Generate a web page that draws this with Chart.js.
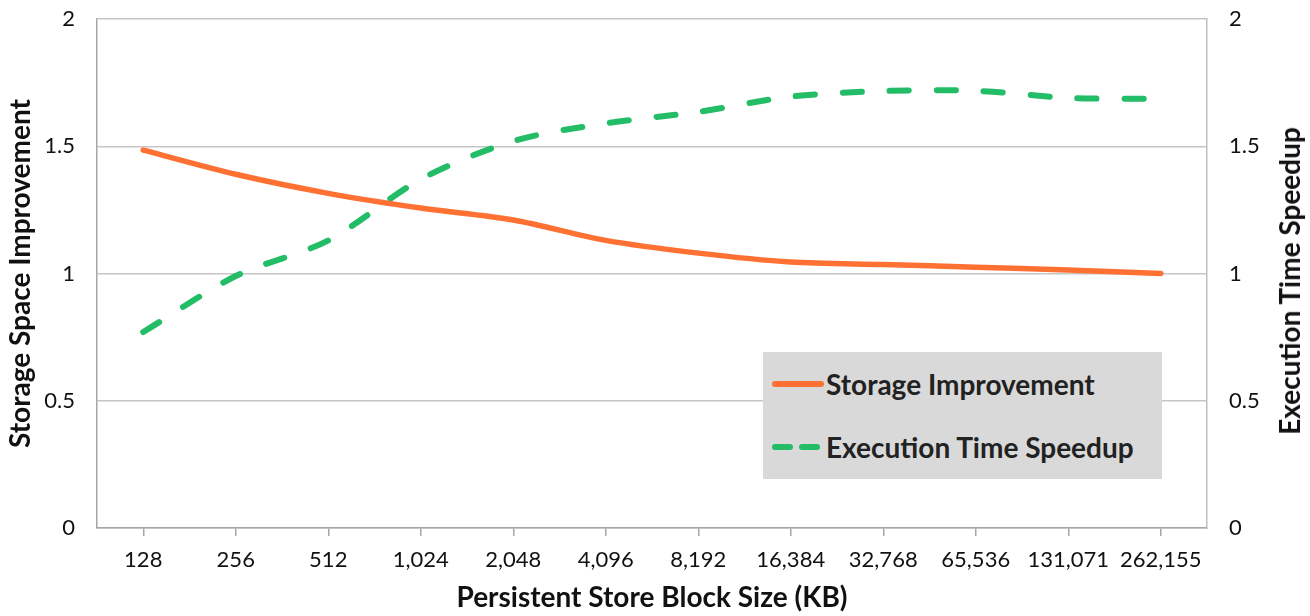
<!DOCTYPE html>
<html>
<head>
<meta charset="utf-8">
<script src="https://cdn.jsdelivr.net/npm/chart.js@4/dist/chart.umd.min.js"></script>
<style>
  html, body { margin: 0; padding: 0; background: #fff; }
  #wrap { position: relative; width: 1310px; height: 616px; font-family: Lato, "Open Sans", sans-serif; }
  #wrap canvas { position: absolute; left: 0; top: 0; }
  .legend { position: absolute; left: 763px; top: 352px; width: 399px; height: 127px; background: #d9d9d9; }
  .legend .row { position: absolute; left: 9px; display: flex; align-items: center; height: 34px; }
  .legend .row span { font-weight: 700; font-size: 28px; color: #222; margin-left: 2px; }
  .rtitle { position: absolute; left: 1289px; top: 281px; transform: translate(-50%, -50%) rotate(-90deg);
            white-space: nowrap; font-weight: 700; font-size: 28px; color: #111; }
</style>
</head>
<body>
<div id="wrap">
  <canvas id="c" width="1310" height="616"></canvas>
  <div class="legend">
    <div class="row" style="top:15px">
      <svg width="52" height="10"><line x1="3" y1="5" x2="49" y2="5" stroke="#fe7133" stroke-width="6" stroke-linecap="round"/></svg>
      <span>Storage Improvement</span>
    </div>
    <div class="row" style="top:78px">
      <svg width="52" height="10"><line x1="3" y1="5" x2="49" y2="5" stroke="#23bc67" stroke-width="6" stroke-linecap="round" stroke-dasharray="15 12"/></svg>
      <span>Execution Time Speedup</span>
    </div>
  </div>
  <div class="rtitle">Execution Time Speedup</div>
</div>
<script>
// block sizes on the x axis
const blockSizes = ["128", "256", "512", "1,024", "2,048", "4,096", "8,192",
  "16,384", "32,768", "65,536", "131,071", "262,155"];
const storageImprovement = [1.485, 1.39, 1.315, 1.257, 1.21, 1.13, 1.08,
  1.045, 1.035, 1.025, 1.014, 1.0];
const execSpeedup = [0.77, 0.99, 1.13, 1.37, 1.52, 1.59, 1.635,
  1.695, 1.717, 1.718, 1.69, 1.686];
const yTicks = [0, 0.5, 1, 1.5, 2];

const ORANGE = "#fe7133";
const GREEN = "#23bc67";
const AXIS = "#a6a6a6";
const FONT = "Lato, 'Open Sans', sans-serif";

const fmtY = (v) => String(v);

new Chart(document.getElementById("c"), {
  type: "line",
  data: {
    labels: blockSizes,
    datasets: [
      {
        label: "Storage Improvement",
        data: storageImprovement,
        yAxisID: "y",
        borderColor: ORANGE,
        borderWidth: 5.5,
        borderCapStyle: "round",
        pointRadius: 0,
        tension: 0.3,
        fill: false,
      },
      {
        label: "Execution Time Speedup",
        data: execSpeedup,
        yAxisID: "y1",
        borderColor: GREEN,
        borderWidth: 6,
        borderCapStyle: "round",
        borderDash: [19, 28],
        pointRadius: 0,
        tension: 0.3,
        fill: false,
      },
    ],
  },
  options: {
    responsive: false,
    animation: false,
    layout: { padding: { top: 19, left: 0, right: 0, bottom: 0 } },
    plugins: { legend: { display: false }, tooltip: { enabled: false } },
    scales: {
      x: {
        offset: true,
        grid: { offset: false, drawOnChartArea: false, drawTicks: true, tickLength: 8, color: AXIS, lineWidth: 1.5 },
        border: { display: true, color: AXIS, width: 1.5 },
        ticks: { color: "#111", font: { family: FONT, size: 22 }, padding: 11, maxRotation: 0, autoSkip: false },
        title: { display: true, text: "Persistent Store Block Size (KB)", color: "#111",
                 font: { family: FONT, size: 28, weight: "bold" }, padding: { top: 2, bottom: 1 } },
        afterFit: (s) => { s.height = 88; s.paddingLeft = 0; s.paddingRight = 0; },
      },
      y: {
        position: "left",
        min: 0, max: 2,
        afterBuildTicks: (s) => { s.ticks = yTicks.map((v) => ({ value: v })); },
        grid: { color: "#c6c6c6", lineWidth: 1.5, drawTicks: false },
        border: { display: true, color: AXIS, width: 1.5 },
        ticks: { color: "#111", font: { family: FONT, size: 22 }, padding: 22, callback: fmtY },
        title: { display: true, text: "Storage Space Improvement", color: "#111",
                 font: { family: FONT, size: 28, weight: "bold" }, padding: { top: 4, bottom: 0 } },
        afterFit: (s) => { s.width = 97; s.paddingTop = 0; s.paddingBottom = 0; },
      },
      y1: {
        position: "right",
        min: 0, max: 2,
        afterBuildTicks: (s) => { s.ticks = yTicks.map((v) => ({ value: v })); },
        grid: { display: true, drawOnChartArea: false, drawTicks: false },
        border: { display: true, color: "#c0c0c0", width: 1.5 },
        ticks: { color: "#111", font: { family: FONT, size: 22 }, padding: 22, callback: fmtY },
        afterFit: (s) => { s.width = 103; s.paddingTop = 0; s.paddingBottom = 0; },
      },
    },
  },
});
</script>
</body>
</html>
